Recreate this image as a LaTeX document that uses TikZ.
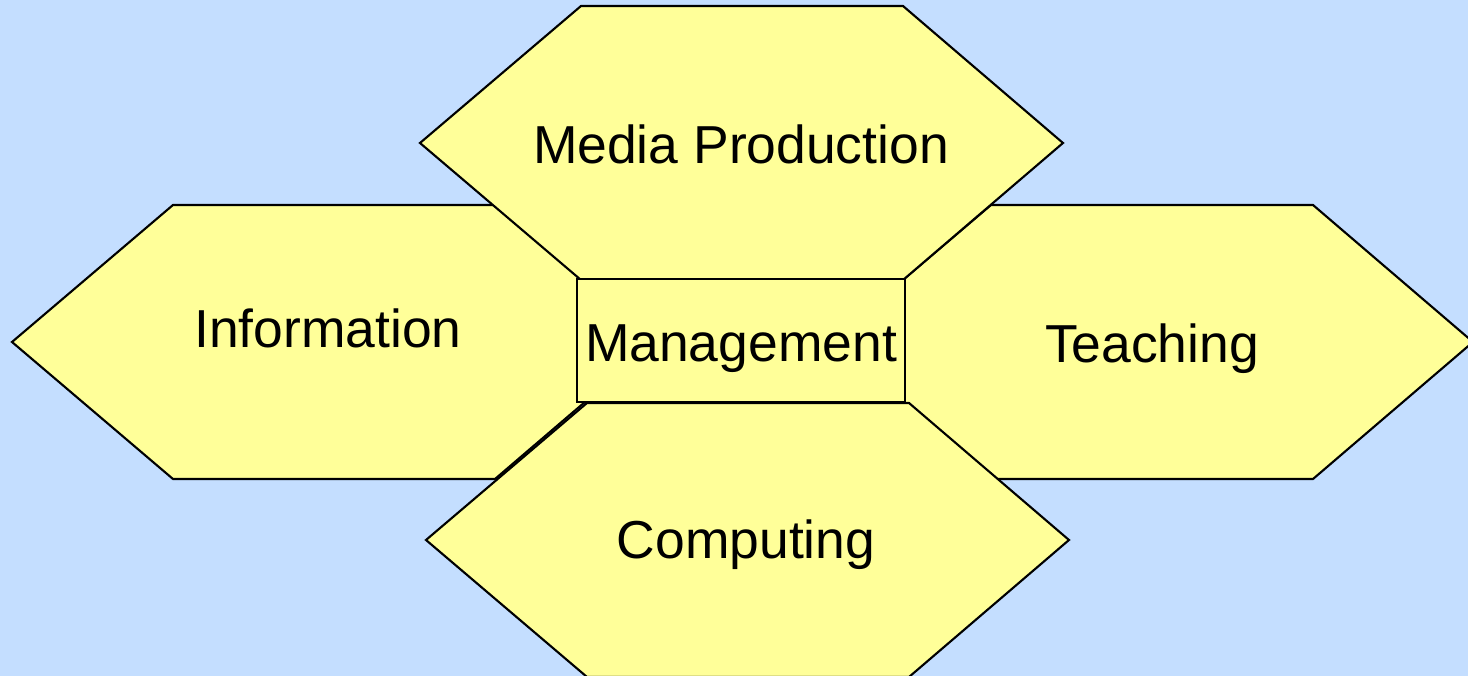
\documentclass[tikz,border=0pt]{standalone}
\usepackage{fontspec}
\setmainfont{Liberation Sans}
\usetikzlibrary{positioning}
\definecolor{PaleBlue}{RGB}{196,222,255}
\definecolor{PaleYellow}{RGB}{255,255,153}
\tikzset{
  hexa/.style={draw=black, fill=PaleYellow, line width=0.6pt, line join=miter},
  label text/.style={font=\fontsize{15.2}{18}\selectfont, inner sep=0pt, anchor=base},
  mgmtbox/.style={draw=black, fill=PaleYellow, line width=0.6pt,
    minimum width=3.28cm, minimum height=1.23cm, inner sep=0pt,
    text height=12.2pt, text depth=0pt,
    font=\fontsize{15.2}{18}\selectfont}
}

\begin{document}
\begin{tikzpicture}[x=0.01cm, y=-0.01cm]
  % background
  \fill[PaleBlue] (0,0) rectangle (1468,676);
  \useasboundingbox (0,0) rectangle (1468,676);

  % hexagons: side ones first, then top and bottom
  \foreach \name/\cx/\cy/\tx/\ty/\txt in {%
      info/333/342/328/348/Information,
      teach/1151/342/1152/363/Teaching,
      media/741/143/741/164/Media Production,
      comp/747/540/746/559/Computing}{%
    \filldraw[hexa] (\cx-321,\cy) -- ++(161,-137) -- ++(322,0)
      -- ++(160,137) -- ++(-160,137) -- ++(-322,0) -- cycle;
    \node[label text] (\name) at (\tx,\ty) {\txt};
  }

  % centre box
  \node[mgmtbox] (mgmt) at (741,340.5) {Management};
\end{tikzpicture}
\end{document}
